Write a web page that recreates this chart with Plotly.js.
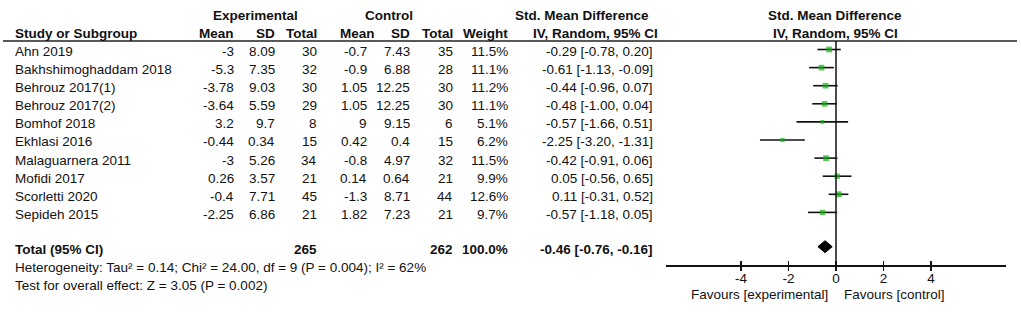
<!DOCTYPE html>
<html><head><meta charset="utf-8">
<script src="https://cdn.plot.ly/plotly-3.0.1.min.js"></script>
<style>html,body{margin:0;padding:0;background:#fff;}#chart{width:1021px;height:313px;}</style>
</head><body><div id="chart"></div>
<script>
// ---- data ----
const studies = ["Ahn 2019","Bakhshimoghaddam 2018","Behrouz 2017(1)","Behrouz 2017(2)","Bomhof 2018","Ekhlasi 2016","Malaguarnera 2011","Mofidi 2017","Scorletti 2020","Sepideh 2015"];
const expMean = [-3,-5.3,-3.78,-3.64,3.2,-0.44,-3,0.26,-0.4,-2.25];
const expSD   = [8.09,7.35,9.03,5.59,9.7,0.34,5.26,3.57,7.71,6.86];
const expN    = [30,32,30,29,8,15,34,21,45,21];
const ctlMean = [-0.7,-0.9,1.05,1.05,9,0.42,-0.8,0.14,-1.3,1.82];
const ctlSD   = [7.43,6.88,12.25,12.25,9.15,0.4,4.97,0.64,8.71,7.23];
const ctlN    = [35,28,30,30,6,15,32,21,44,21];
const weight  = [11.5,11.1,11.2,11.1,5.1,6.2,11.5,9.9,12.6,9.7];
const smd     = [-0.29,-0.61,-0.44,-0.48,-0.57,-2.25,-0.42,0.05,0.11,-0.57];
const ciLow   = [-0.78,-1.13,-0.96,-1.00,-1.66,-3.20,-0.91,-0.56,-0.31,-1.18];
const ciHigh  = [0.20,-0.09,0.07,0.04,0.51,-1.31,0.06,0.65,0.52,0.05];
const totalExpN = 265, totalCtlN = 262, totalWeight = 100.0;
const totalSmd = -0.46, totalLow = -0.76, totalHigh = -0.16;
const heterogeneityText = "Heterogeneity: Tau² = 0.14; Chi² = 24.00, df = 9 (P = 0.004); I² = 62%";
const overallText = "Test for overall effect: Z = 3.05 (P = 0.002)";
const tickVals = [-4,-2,0,2,4];
const tickText = ["-4","-2","0","2","4"];
const favLeft = "Favours [experimental]", favRight = "Favours [control]";

// ---- layout constants (pixels) ----
const W = 1021, H = 313, PPR = 18.1;
const yTop = -49.5 / PPR, yBot = yTop + H / PPR;
const pxRow = p => yTop + p / PPR;
const TXT = 0.11;
const totalRow = pxRow(246.7);
const hetRow = pxRow(267.3), testRow = pxRow(285);
const head1 = pxRow(15), head2 = pxRow(33), ruleRow = pxRow(41);
const axisPx = 265, axisRow = pxRow(axisPx);
const col = {name:13, eMean:236, eSD:277, eN:319, cMeanHead:377, cMean:369, cSD:412, cN:455, w:510, ci:655};
const FONT = {family:"Liberation Sans, Arial, sans-serif", size:13.5, color:"#111"};
const px = v => v / W;

const ann = [];
function T(x, y, text, anchor, bold) {
  ann.push({xref:"paper", yref:"y", x:px(x), y:y, text: bold ? "<b>"+text+"</b>" : text,
    xanchor:anchor, yanchor:"middle", showarrow:false, font:FONT});
}
// headers
T(255, head1, "Experimental", "center", true);
T(388.5, head1, "Control", "center", true);
T(582, head1, "Std. Mean Difference", "center", true);
T(835, head1, "Std. Mean Difference", "center", true);
T(col.name, head2, "Study or Subgroup", "left", true);
T(col.eMean, head2, "Mean", "right", true);
T(col.eSD, head2, "SD", "right", true);
T(col.eN, head2, "Total", "right", true);
T(col.cMeanHead, head2, "Mean", "right", true);
T(col.cSD, head2, "SD", "right", true);
T(col.cN, head2, "Total", "right", true);
T(col.w, head2, "Weight", "right", true);
T(595, head2, "IV, Random, 95% CI", "center", true);
T(835, head2, "IV, Random, 95% CI", "center", true);
const fmtCI = (m,l,h) => m.toFixed(2)+" ["+l.toFixed(2)+", "+h.toFixed(2)+"]";
studies.forEach((s,i) => {
  const y = i + TXT;
  T(col.name, y, s, "left");
  T(col.eMean, y, String(expMean[i]), "right");
  T(col.eSD, y, String(expSD[i]), "right");
  T(col.eN, y, String(expN[i]), "right");
  T(col.cMean, y, String(ctlMean[i]), "right");
  T(col.cSD, y, String(ctlSD[i]), "right");
  T(col.cN, y, String(ctlN[i]), "right");
  T(col.w, y, weight[i].toFixed(1)+"%", "right");
  T(col.ci, y, fmtCI(smd[i], ciLow[i], ciHigh[i]), "right");
});
const ty = totalRow + TXT + 0.03;
T(col.name, ty, "Total (95% CI)", "left", true);
T(col.eN, ty, String(totalExpN), "right", true);
T(col.cN, ty, String(totalCtlN), "right", true);
T(col.w, ty, totalWeight.toFixed(1)+"%", "right", true);
T(col.ci, ty, fmtCI(totalSmd, totalLow, totalHigh), "right", true);
T(col.name, hetRow+0.02, heterogeneityText, "left");
T(col.name, testRow+0.02, overallText, "left");
// favours labels
ann.push({xref:"x", yref:"y", x:-0.25, y:pxRow(294), text:favLeft, xanchor:"right", yanchor:"middle", showarrow:false, font:FONT});
ann.push({xref:"x", yref:"y", x:0.25, y:pxRow(294), text:favRight, xanchor:"left", yanchor:"middle", showarrow:false, font:FONT});

// ---- traces ----
const ciX = [], ciY = [];
studies.forEach((s,i) => { ciX.push(ciLow[i], ciHigh[i], null); ciY.push(i, i, null); });
const traces = [
  {type:"scatter", mode:"lines", x:ciX, y:ciY, xaxis:"x", yaxis:"y", line:{color:"#111", width:1.6}, hoverinfo:"skip", showlegend:false},
  {type:"scatter", mode:"markers", x:smd, y:studies.map((s,i)=>i), xaxis:"x", yaxis:"y",
    marker:{symbol:"square", color:"#12b012", size:weight.map(w=>1.7*Math.sqrt(w)), line:{width:0}}, showlegend:false},
  {type:"scatter", mode:"lines", fill:"toself", fillcolor:"#000",
    x:[totalLow, totalSmd, totalHigh, totalSmd, totalLow],
    y:[totalRow, totalRow-0.33, totalRow, totalRow+0.33, totalRow], xaxis:"x", yaxis:"y",
    line:{color:"#000", width:1}, showlegend:false},
  {type:"scatter", mode:"markers", x:[0], y:[axisRow], xaxis:"x3", yaxis:"y", marker:{opacity:0}, showlegend:false, hoverinfo:"skip"}
];

const dom = [px(666), px(1006)];
const xr = [-7.15, 7.15];
const layout = {
  width:W, height:H, margin:{l:0, r:0, t:0, b:0}, paper_bgcolor:"#fff", plot_bgcolor:"rgba(0,0,0,0)",
  showlegend:false, font:FONT,
  xaxis:{domain:dom, range:xr, anchor:"free", position:1-axisPx/H, showgrid:false, zeroline:false,
    showline:true, linecolor:"#111", linewidth:1.5, ticks:"inside", ticklen:4, tickwidth:1.5, tickcolor:"#111",
    tickvals:tickVals, ticktext:tickText, tickfont:FONT, fixedrange:true},
  xaxis3:{domain:dom, range:xr, anchor:"free", overlaying:"x", side:"bottom", position:1-axisPx/H, showgrid:false, zeroline:false,
    showline:false, ticks:"outside", ticklen:5, tickwidth:1.5, tickcolor:"#111", tickvals:tickVals, showticklabels:false},
  yaxis:{domain:[0,1], range:[yBot, yTop], visible:false, showgrid:false, zeroline:false, fixedrange:true},
  shapes:[
    {type:"line", xref:"paper", yref:"y", x0:px(3), x1:px(1017), y0:ruleRow, y1:ruleRow, line:{color:"#222", width:1.5}},
    {type:"line", xref:"x", yref:"y", x0:0, x1:0, y0:ruleRow, y1:axisRow, line:{color:"#111", width:1.5}}
  ],
  annotations:ann
};
Plotly.newPlot("chart", traces, layout, {staticPlot:true, displayModeBar:false});
</script></body></html>
